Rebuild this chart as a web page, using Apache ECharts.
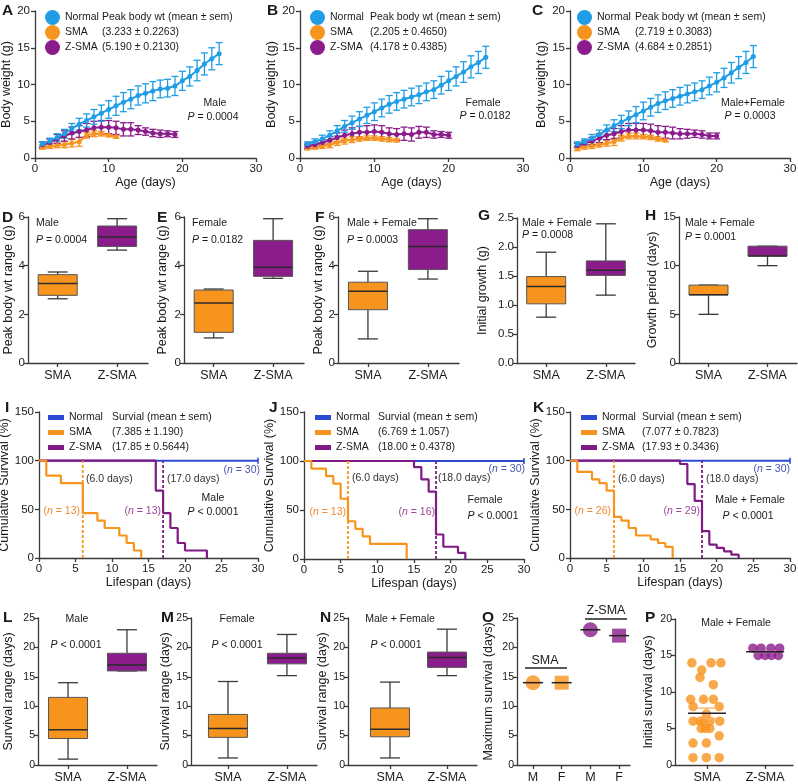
<!DOCTYPE html>
<html><head><meta charset="utf-8">
<script src="https://cdn.jsdelivr.net/npm/echarts@6/dist/echarts.min.js"></script>
<style>html,body{margin:0;padding:0;background:#fff}#c{width:798px;height:784px}</style>
</head><body><div id="c"></div><script>
// ================= DATA =================
const ageDays = [1,2,3,4,5,6,7,8,9,10,11,12,13,14,15,16,17,18,19,20,21,22,23,24,25];

// A - Male body weight (g)
const wtNormalMale = [1.9,2.3,2.8,3.3,4.0,4.6,5.1,5.6,6.1,6.6,7.1,7.6,8.0,8.5,8.8,9.1,9.4,9.5,9.8,10.5,11.1,11.9,12.8,13.5,14.2];
const semNormalMale = [0.3,0.4,0.5,0.6,0.7,0.8,0.9,1.0,1.1,1.2,1.3,1.3,1.3,1.3,1.3,1.3,1.2,1.2,1.3,1.3,1.3,1.4,1.5,1.5,1.5];
const wtSmaMale = [1.5,1.6,1.7,1.8,2.0,2.2,3.1,3.3,3.3,3.1,2.9];
const semSmaMale = [0.3,0.3,0.3,0.4,0.5,0.6,0.4,0.4,0.3,0.2,0.2];
const wtZsmaMale = [1.8,2.1,2.6,3.0,3.4,3.6,3.8,4.1,4.2,4.2,4.1,3.9,3.9,3.8,3.6,3.4,3.3,3.3,3.2];
const semZsmaMale = [0.4,0.5,0.6,0.7,0.8,0.8,0.9,0.9,0.9,0.9,0.9,0.9,0.9,0.6,0.5,0.5,0.5,0.4,0.4];
// B - Female
const wtNormalFemale = [1.9,2.2,2.6,3.1,3.7,4.3,4.8,5.3,5.8,6.3,6.8,7.3,7.7,8.0,8.3,8.6,9.0,9.3,9.9,10.5,11.1,11.7,12.4,13.0,13.7];
const semNormalFemale = [0.3,0.4,0.5,0.6,0.7,0.8,0.9,1.0,1.1,1.2,1.2,1.2,1.2,1.2,1.2,1.2,1.2,1.2,1.2,1.3,1.3,1.4,1.5,1.5,1.5];
const wtSmaFemale = [1.4,1.5,1.6,1.8,2.1,2.3,2.5,2.6,2.7,2.7,2.6,2.5,2.4];
const semSmaFemale = [0.3,0.3,0.3,0.4,0.4,0.4,0.4,0.3,0.3,0.3,0.3,0.3,0.2];
const wtZsmaFemale = [1.6,1.8,2.1,2.4,2.8,3.1,3.3,3.5,3.5,3.6,3.5,3.3,3.2,3.3,3.2,3.5,3.5,3.2,3.2,3.1];
const semZsmaFemale = [0.3,0.4,0.4,0.5,0.6,0.7,0.8,0.8,0.9,0.9,0.9,0.8,0.8,0.9,0.9,0.8,0.7,0.5,0.4,0.4];
// C - Male+Female
const wtNormalAll = [1.9,2.2,2.7,3.2,3.8,4.4,4.9,5.4,5.9,6.4,6.9,7.4,7.8,8.1,8.4,8.7,9.0,9.3,9.8,10.3,10.9,11.6,12.3,13.0,13.8];
const semNormalAll = [0.3,0.4,0.5,0.6,0.7,0.8,0.9,1.0,1.1,1.2,1.2,1.2,1.2,1.2,1.2,1.2,1.2,1.2,1.2,1.3,1.3,1.4,1.5,1.5,1.5];
const wtSmaAll = [1.3,1.5,1.6,1.8,2.0,2.2,2.7,3.0,3.0,2.9,2.8,2.6,2.4];
const semSmaAll = [0.3,0.3,0.3,0.3,0.4,0.5,0.4,0.4,0.4,0.3,0.3,0.3,0.2];
const wtZsmaAll = [1.7,2.0,2.3,2.7,3.1,3.3,3.6,3.8,3.8,3.8,3.7,3.5,3.5,3.4,3.3,3.3,3.3,3.2,3.0,3.0];
const semZsmaAll = [0.3,0.4,0.5,0.6,0.6,0.7,0.8,0.9,0.9,0.9,0.9,0.9,0.8,0.8,0.7,0.6,0.5,0.5,0.4,0.4];

const statsMale = ['Peak body wt (mean ± sem)', '(3.233 ± 0.2263)', '(5.190 ± 0.2130)'];
const statsFemale = ['Peak body wt (mean ± sem)', '(2.205 ± 0.4650)', '(4.178 ± 0.4385)'];
const statsAll = ['Peak body wt (mean ± sem)', '(2.719 ± 0.3083)', '(4.684 ± 0.2851)'];

// Box plots [min, q1, median, q3, max] for SMA, Z-SMA
const boxCats = ['SMA', 'Z-SMA'];
const peakWtMale = [[2.64,2.78,3.27,3.63,3.74],[4.64,4.79,5.18,5.63,5.93]];
const peakWtFemale = [[1.03,1.26,2.47,3.0,3.04],[3.48,3.56,3.93,5.04,5.93]];
const peakWtAll = [[0.99,2.19,2.95,3.32,3.77],[3.45,3.84,4.79,5.48,5.93]];
const initialGrowth = [[0.79,1.02,1.32,1.49,1.91],[1.17,1.51,1.60,1.76,2.40]];
const growthPeriod = [[5,7,7,8,8],[10,11,11,12,12]];
const survRangeMale = [[1,4.5,6,11.5,14],[16,16,17,19,23]];
const survRangeFemale = [[1.2,4.7,6.2,8.6,14.2],[15.2,17.2,18.2,19.0,22.2]];
const survRangeAll = [[1.2,4.8,6.1,9.7,14.1],[15.2,16.6,18.3,19.2,23.1]];

// Kaplan-Meier steps [day, survival %]
const kmNormal = [[0,100],[30,100]];
const kmSmaMale = [[0,100],[1,84.6],[3,76.9],[6,46.2],[8,38.5],[9,30.8],[11,23.1],[12,15.4],[13,7.7],[14,0]];
const kmZsmaMale = [[0,100],[16,69.2],[17,46.2],[18,30.8],[19,15.4],[20,7.7],[23,0]];
const kmSmaFemale = [[0,100],[1,92.3],[3,84.6],[4,76.9],[5,61.5],[6,38.5],[7,30.8],[8,23.1],[9,15.4],[14,0]];
const kmZsmaFemale = [[0,100],[15,93.75],[16,81.25],[17,68.75],[18,25],[19,12.5],[21,6.25],[22,0]];
const kmSmaAll = [[0,100],[1,88.5],[3,80.8],[4,76.9],[5,69.2],[6,42.3],[7,38.5],[8,30.8],[9,23.1],[11,19.2],[12,15.4],[13,11.5],[14,0]];
const kmZsmaAll = [[0,100],[15,96.6],[16,75.9],[17,58.6],[18,27.6],[19,13.8],[20,10.3],[21,6.9],[22,3.4],[23,0]];
const medianMale = [6, 17], medianFemale = [6, 18], medianAll = [6, 18];
const survStatsMale = ['Survial (mean ± sem)', '(7.385 ± 1.190)', '(17.85 ± 0.5644)'];
const survStatsFemale = ['Survial (mean ± sem)', '(6.769 ± 1.057)', '(18.00 ± 0.4378)'];
const survStatsAll = ['Survial (mean ± sem)', '(7.077 ± 0.7823)', '(17.93 ± 0.3436)'];

// O - maximum survival (M, F for SMA and Z-SMA)
const maxSurvCats = ['M', 'F', 'M', 'F'];
const maxSurvival = [14, 14, 23, 22];

// P - initial survival points [x position, days]
const initSurvSMA = [[0.74,14],[1.07,14],[1.24,14],[0.91,13],[0.88,12],[1.11,11],[0.72,9],[0.94,9],[1.11,9],[0.76,8],[1.21,8],[0.99,7],[0.76,6],[0.88,6],[1.05,6],[1.22,6],[0.93,6],[0.97,5],[1.05,5],[0.90,5],[1.21,4],[0.76,3],[0.99,3],[0.76,1],[0.99,1],[1.21,1]];
const initSurvZSMA = [[1.79,16],[1.93,16],[2.10,16],[2.25,16],[1.88,15],[2.00,15],[2.11,15],[2.23,15]];
const initSurvMean = [[1, 7.08, 0.72], [2, 15.5, 0.1]];

// ================= STYLE / BUILD =================
const FONT = '"Liberation Sans", Arial, Helvetica, sans-serif';
const C_NORM = '#1f9ee6', C_SMA = '#f7941d', C_ZSMA = '#8b1c8b';
const C_KMN = '#2d4bd1', C_KMZ = '#801a84';
const AX = '#3a3a3a', TXT = '#1a1a1a';
const boxColors = [C_SMA, C_ZSMA];

const grids = [], xAxes = [], yAxes = [], series = [], legends = [], graphics = [];

function addGrid(g) { grids.push(Object.assign({ containLabel: false, outerBoundsMode: 'none' }, g)); return grids.length - 1; }
function axis(o) {
  const base = {
    type: 'value', nameLocation: 'middle',
    nameTextStyle: { color: TXT, fontSize: 12.5, fontFamily: FONT },
    axisLine: { show: true, onZero: false, lineStyle: { color: AX, width: 1.3 } },
    axisTick: { show: true, inside: false, length: 4, lineStyle: { color: AX, width: 1.3 } },
    axisLabel: { show: true, color: TXT, fontSize: 11.5, fontFamily: FONT, margin: 5 },
    splitLine: { show: false }
  };
  for (const k in o) {
    if (base[k] && typeof base[k] === 'object' && !Array.isArray(base[k]) && o[k] && typeof o[k] === 'object' && !Array.isArray(o[k])) base[k] = Object.assign({}, base[k], o[k]);
    else base[k] = o[k];
  }
  return base;
}
function errRender(color, hw, lw) {
  return function (params, api) {
    const x = api.value(0), m = api.value(1), s = api.value(2);
    const a = api.coord([x, m + s]), b = api.coord([x, m - s]);
    const st = { stroke: color, lineWidth: lw };
    return { type: 'group', children: [
      { type: 'line', shape: { x1: a[0], y1: a[1], x2: b[0], y2: b[1] }, style: st },
      { type: 'line', shape: { x1: a[0] - hw, y1: a[1], x2: a[0] + hw, y2: a[1] }, style: st },
      { type: 'line', shape: { x1: b[0] - hw, y1: b[1], x2: b[0] + hw, y2: b[1] }, style: st }
    ]};
  };
}
function boxRender(params, api) {
  const x = api.value(0);
  const c = [1, 2, 3, 4, 5].map(k => api.coord([x, api.value(k)]));
  const cx = c[0][0], bw = 39, cw = 20;
  const wl = { stroke: '#3a3a3a', lineWidth: 1.3 };
  return { type: 'group', children: [
    { type: 'line', shape: { x1: cx, y1: c[4][1], x2: cx, y2: c[3][1] }, style: wl },
    { type: 'line', shape: { x1: cx, y1: c[1][1], x2: cx, y2: c[0][1] }, style: wl },
    { type: 'line', shape: { x1: cx - cw / 2, y1: c[4][1], x2: cx + cw / 2, y2: c[4][1] }, style: wl },
    { type: 'line', shape: { x1: cx - cw / 2, y1: c[0][1], x2: cx + cw / 2, y2: c[0][1] }, style: wl },
    { type: 'rect', shape: { x: cx - bw / 2, y: c[3][1], width: bw, height: c[1][1] - c[3][1] }, style: { fill: boxColors[params.dataIndex], stroke: '#555', lineWidth: 1 } },
    { type: 'line', shape: { x1: cx - bw / 2, y1: c[2][1], x2: cx + bw / 2, y2: c[2][1] }, style: { stroke: '#2a2a2a', lineWidth: 1.5 } }
  ]};
}
function meanRender(hw, semHw, semColors) {
  return function (params, api) {
    const x = api.value(0), m = api.value(1), s = api.value(2) || 0;
    const p = api.coord([x, m]);
    const ch = [];
    if (s > 0) {
      const a = api.coord([x, m + s]), b = api.coord([x, m - s]);
      const st = { stroke: semColors[params.dataIndex], lineWidth: 1.4 };
      ch.push({ type: 'line', shape: { x1: a[0], y1: a[1], x2: b[0], y2: b[1] }, style: st });
      ch.push({ type: 'line', shape: { x1: a[0] - semHw, y1: a[1], x2: a[0] + semHw, y2: a[1] }, style: st });
      ch.push({ type: 'line', shape: { x1: b[0] - semHw, y1: b[1], x2: b[0] + semHw, y2: b[1] }, style: st });
    }
    ch.push({ type: 'line', shape: { x1: p[0] - hw, y1: p[1], x2: p[0] + hw, y2: p[1] }, style: { stroke: '#222', lineWidth: 1.5 } });
    return { type: 'group', children: ch };
  };
}
function addLegend(left, top, icon, iw, ih, gap, colors, texts, nameW) {
  const names = ['Normal', 'SMA', 'Z-SMA'];
  legends.push({
    orient: 'vertical', left, top, padding: 0, itemGap: gap, itemWidth: iw, itemHeight: ih, icon, selectedMode: false,
    itemStyle: { borderWidth: 0 },
    data: names.map((n, i) => ({ name: n, itemStyle: { color: colors[i], borderWidth: 0 } })),
    textStyle: { fontSize: 10.5, lineHeight: 13, fontFamily: FONT, color: TXT,
      rich: { n: { width: nameW, fontSize: 10.5, fontFamily: FONT, color: TXT }, s: { fontSize: 10.5, fontFamily: FONT, color: TXT } } },
    formatter: name => '{n|' + name + '}{s|' + texts[names.indexOf(name)] + '}'
  });
}
function txt(x, y, text, align, opts) {
  opts = opts || {};
  const fs = opts.fs || 10.5, col = opts.color || TXT, fw = opts.bold ? 'bold' : 'normal';
  graphics.push({ type: 'text', x, y, silent: true, z: 100, style: {
    text, fill: col, fontSize: fs, fontFamily: FONT, fontWeight: fw, align: align || 'left', verticalAlign: opts.va || 'middle',
    rich: { i: { fontStyle: 'italic', fontSize: fs, fontFamily: FONT, fill: col } } } });
}
function hline(x1, x2, y) {
  graphics.push({ type: 'line', silent: true, shape: { x1, y1: y, x2, y2: y }, style: { stroke: '#222', lineWidth: 1.3 } });
}

function growthPanel(g, nameGap, groups) {
  const gi = addGrid(g);
  xAxes.push(axis({ gridIndex: gi, min: 0, max: 30, interval: 10, name: 'Age (days)', nameGap: 18 }));
  yAxes.push(axis({ gridIndex: gi, min: 0, max: 20, interval: 5, name: 'Body weight (g)', nameGap }));
  groups.forEach(gr => {
    series.push({ type: 'custom', name: gr.name + ' sem', xAxisIndex: gi, yAxisIndex: gi, clip: false,
      data: gr.mean.map((v, i) => [ageDays[i], v, gr.sem[i]]), encode: { x: 0, y: 1 },
      renderItem: errRender(gr.color, 3.5, 1.3) });
    series.push({ type: 'line', name: gr.name, xAxisIndex: gi, yAxisIndex: gi,
      data: gr.mean.map((v, i) => [ageDays[i], v]), symbol: 'circle', symbolSize: 5, showSymbol: true,
      itemStyle: { color: gr.color, borderWidth: 0 }, lineStyle: { color: gr.color, width: 2 } });
  });
}
function boxPanel(g, xr, ymax, yint, yname, nameGap, boxes, yfmt, yfs) {
  const gi = addGrid(g);
  const ticks = [1, 2];
  xAxes.push(axis({ gridIndex: gi, min: xr[0], max: xr[1],
    axisTick: { customValues: ticks }, axisLabel: { customValues: ticks, fontSize: 12.5, margin: 6, formatter: v => boxCats[Math.round(v) - 1] || '' } }));
  const ya = { gridIndex: gi, min: 0, max: ymax, interval: yint, name: yname, nameGap, axisLabel: { margin: 3, fontSize: yfs || 11.5 } };
  if (yfmt) ya.axisLabel.formatter = yfmt;
  yAxes.push(axis(ya));
  series.push({ type: 'custom', xAxisIndex: gi, yAxisIndex: gi, clip: false,
    data: boxes.map((b, i) => [i + 1].concat(b)), encode: { x: 0, y: [1, 2, 3, 4, 5] }, renderItem: boxRender });
}
function kmPanel(g, nameGap, sma, zsma, med) {
  const gi = addGrid(g);
  xAxes.push(axis({ gridIndex: gi, min: 0, max: 30, interval: 5, name: 'Lifespan (days)', nameGap: 16 }));
  yAxes.push(axis({ gridIndex: gi, min: 0, max: 150, interval: 50, name: 'Cumulative Survival (%)', nameGap }));
  series.push({ type: 'line', name: 'Normal', xAxisIndex: gi, yAxisIndex: gi, symbol: 'none',
    data: [kmNormal[0], { value: kmNormal[1], symbol: 'rect', symbolSize: [1.6, 6] }],
    itemStyle: { color: C_KMN }, lineStyle: { color: C_KMN, width: 2 } });
  series.push({ type: 'line', name: 'Z-SMA', xAxisIndex: gi, yAxisIndex: gi, symbol: 'none', step: 'end',
    data: zsma, itemStyle: { color: C_KMZ }, lineStyle: { color: C_KMZ, width: 2.2 } });
  series.push({ type: 'line', name: 'SMA', xAxisIndex: gi, yAxisIndex: gi, symbol: 'none', step: 'end',
    data: sma, itemStyle: { color: C_SMA }, lineStyle: { color: C_SMA, width: 2.2 } });
  [[med[0], C_SMA], [med[1], C_KMZ]].forEach(([m, col]) => {
    series.push({ type: 'line', name: 'median', xAxisIndex: gi, yAxisIndex: gi, symbol: 'none',
      data: [[m, 0], [m, 100]], lineStyle: { color: col, width: 1.8, type: [3, 2] } });
  });
}

// ---- Row 1 ----
growthPanel({ left: 35, top: 11, width: 221, height: 147 }, 21, [
  { name: 'SMA', mean: wtSmaMale, sem: semSmaMale, color: C_SMA },
  { name: 'Z-SMA', mean: wtZsmaMale, sem: semZsmaMale, color: C_ZSMA },
  { name: 'Normal', mean: wtNormalMale, sem: semNormalMale, color: C_NORM }]);
growthPanel({ left: 300, top: 11, width: 223, height: 147 }, 18, [
  { name: 'SMA', mean: wtSmaFemale, sem: semSmaFemale, color: C_SMA },
  { name: 'Z-SMA', mean: wtZsmaFemale, sem: semZsmaFemale, color: C_ZSMA },
  { name: 'Normal', mean: wtNormalFemale, sem: semNormalFemale, color: C_NORM }]);
growthPanel({ left: 570, top: 11, width: 220, height: 147 }, 21, [
  { name: 'SMA', mean: wtSmaAll, sem: semSmaAll, color: C_SMA },
  { name: 'Z-SMA', mean: wtZsmaAll, sem: semZsmaAll, color: C_ZSMA },
  { name: 'Normal', mean: wtNormalAll, sem: semNormalAll, color: C_NORM }]);
addLegend(45, 10, 'circle', 15, 15, 0, [C_NORM, C_SMA, C_ZSMA], statsMale, 37);
addLegend(310, 10, 'circle', 15, 15, 0, [C_NORM, C_SMA, C_ZSMA], statsFemale, 40);
addLegend(577, 10, 'circle', 15, 15, 0, [C_NORM, C_SMA, C_ZSMA], statsAll, 38);

// ---- Row 2 ----
const ylabPeak = 'Peak body wt range (g)';
boxPanel({ left: 28, top: 217, width: 120, height: 146 }, [0.5, 2.52], 6, 2, ylabPeak, 13, peakWtMale);
boxPanel({ left: 184, top: 217, width: 120, height: 146 }, [0.5, 2.52], 6, 2, ylabPeak, 15, peakWtFemale);
boxPanel({ left: 338, top: 217, width: 121, height: 146 }, [0.5, 2.52], 6, 2, ylabPeak, 13, peakWtAll);
boxPanel({ left: 517, top: 218, width: 118, height: 145 }, [0.51, 2.49], 2.5, 0.5, 'Initial growth (g)', 28, initialGrowth, v => v.toFixed(1));
boxPanel({ left: 679, top: 217, width: 118, height: 146 }, [0.5, 2.5], 15, 5, 'Growth period (days)', 20, growthPeriod);

// ---- Row 3 ----
kmPanel({ left: 39, top: 412, width: 219, height: 146 }, 25, kmSmaMale, kmZsmaMale, medianMale);
kmPanel({ left: 304, top: 412, width: 220, height: 147 }, 25, kmSmaFemale, kmZsmaFemale, medianFemale);
kmPanel({ left: 570, top: 412, width: 220, height: 146 }, 28, kmSmaAll, kmZsmaAll, medianAll);
addLegend(48, 411, 'rect', 16, 5, 2, [C_KMN, C_SMA, C_KMZ], survStatsMale, 43);
addLegend(315, 411, 'rect', 16, 5, 2, [C_KMN, C_SMA, C_KMZ], survStatsFemale, 42);
addLegend(581, 411, 'rect', 16, 5, 2, [C_KMN, C_SMA, C_KMZ], survStatsAll, 40);

// ---- Row 4 ----
const ylabSurv = 'Survival range (days)';
boxPanel({ left: 38, top: 618, width: 119, height: 147 }, [0.49, 2.51], 25, 5, ylabSurv, 23, survRangeMale, null, 10.5);
boxPanel({ left: 191, top: 618, width: 126, height: 147 }, [0.373, 2.51], 25, 5, ylabSurv, 16, survRangeFemale, null, 10.5);
boxPanel({ left: 348, top: 618, width: 129, height: 147 }, [0.263, 2.526], 25, 5, ylabSurv, 12, survRangeAll, null, 10.5);

// O
(function () {
  const gi = addGrid({ left: 517, top: 618, width: 113, height: 147 });
  const ticks = [1, 2, 3, 4];
  xAxes.push(axis({ gridIndex: gi, min: 0.443, max: 4.38,
    axisTick: { customValues: ticks }, axisLabel: { customValues: ticks, fontSize: 12.5, margin: 6, formatter: v => maxSurvCats[Math.round(v) - 1] || '' } }));
  yAxes.push(axis({ gridIndex: gi, min: 0, max: 25, interval: 5, name: 'Maximum survival (days)', nameGap: 22, axisLabel: { margin: 3, fontSize: 10.5 } }));
  const oSymbols = ['circle', 'rect', 'circle', 'rect'];
  const oSizes = [15, 14, 15, 14];
  const oColors = [C_SMA, C_SMA, C_ZSMA, C_ZSMA];
  series.push({ type: 'scatter', xAxisIndex: gi, yAxisIndex: gi,
    data: maxSurvival.map((v, i) => ({ value: [i + 1, v], symbol: oSymbols[i], symbolSize: oSizes[i], itemStyle: { color: oColors[i] } })) });
  series.push({ type: 'custom', xAxisIndex: gi, yAxisIndex: gi, clip: false, z: 5,
    data: maxSurvival.map((v, i) => [i + 1, v, 0]), encode: { x: 0, y: 1 }, renderItem: meanRender(10, 0, []) });
})();

// P
(function () {
  const gi = addGrid({ left: 675, top: 619, width: 118, height: 146 });
  const ticks = [1, 2];
  xAxes.push(axis({ gridIndex: gi, min: 0.45, max: 2.48,
    axisTick: { customValues: ticks }, axisLabel: { customValues: ticks, fontSize: 12.5, margin: 6, formatter: v => boxCats[Math.round(v) - 1] || '' } }));
  yAxes.push(axis({ gridIndex: gi, min: 0, max: 20, interval: 5, name: 'Initial survival (days)', nameGap: 20, axisLabel: { margin: 3, fontSize: 10.5 } }));
  series.push({ type: 'scatter', xAxisIndex: gi, yAxisIndex: gi, data: initSurvSMA, symbol: 'circle', symbolSize: 9.5, itemStyle: { color: C_SMA } });
  series.push({ type: 'scatter', xAxisIndex: gi, yAxisIndex: gi, data: initSurvZSMA, symbol: 'circle', symbolSize: 9.5, itemStyle: { color: C_ZSMA } });
  series.push({ type: 'custom', xAxisIndex: gi, yAxisIndex: gi, clip: false, z: 5,
    data: initSurvMean, encode: { x: 0, y: 1 }, renderItem: meanRender(19, 10, ['#f6b26b', '#b060b0']) });
})();

// ---- Texts ----
const letters = [['A',2,3],['B',267,3],['C',532,3],['D',2,210],['E',157,210],['F',315,210],['G',478,208],['H',645,208],
  ['I',5,400],['J',269,400],['K',533,400],['L',3,610],['M',161,610],['N',320,610],['O',482,610],['P',645,610]];
letters.forEach(([t, x, y]) => txt(x, y, t, 'left', { fs: 15.5, bold: true, va: 'top' }));

txt(215, 103, 'Male', 'center'); txt(213, 117, '{i|P} = 0.0004', 'center');
txt(483, 103, 'Female', 'center'); txt(485, 116, '{i|P} = 0.0182', 'center');
txt(753, 103, 'Male+Female', 'center'); txt(750, 116, '{i|P} = 0.0003', 'center');

txt(36, 223, 'Male'); txt(36, 240, '{i|P} = 0.0004');
txt(192, 223, 'Female'); txt(192, 240, '{i|P} = 0.0182');
txt(347, 223, 'Male + Female'); txt(347, 240, '{i|P} = 0.0003');
txt(522, 223, 'Male + Female'); txt(522, 235, '{i|P} = 0.0008');
txt(685, 223, 'Male + Female'); txt(685, 237, '{i|P} = 0.0001');

const cO = '#f08a30', cP = '#9a449a', cB = '#4a55b5', cG = '#333';
txt(86, 479, '(6.0 days)', 'left', { color: cG }); txt(167, 479, '(17.0 days)', 'left', { color: cG });
txt(80, 511, '({i|n} = 13)', 'right', { color: cO }); txt(161, 511, '({i|n} = 13)', 'right', { color: cP });
txt(260, 470, '({i|n} = 30)', 'right', { color: cB });
txt(213, 498, 'Male', 'center'); txt(213, 512, '{i|P} < 0.0001', 'center');

txt(352, 478, '(6.0 days)', 'left', { color: cG }); txt(438, 478, '(18.0 days)', 'left', { color: cG });
txt(346, 512, '({i|n} = 13)', 'right', { color: cO }); txt(435, 512, '({i|n} = 16)', 'right', { color: cP });
txt(525, 469, '({i|n} = 30)', 'right', { color: cB });
txt(485, 500, 'Female', 'center'); txt(493, 516, '{i|P} < 0.0001', 'center');

txt(618, 479, '(6.0 days)', 'left', { color: cG }); txt(706, 479, '(18.0 days)', 'left', { color: cG });
txt(611, 511, '({i|n} = 26)', 'right', { color: cO }); txt(700, 511, '({i|n} = 29)', 'right', { color: cP });
txt(790, 469, '({i|n} = 30)', 'right', { color: cB });
txt(750, 500, 'Male + Female', 'center'); txt(748, 516, '{i|P} < 0.0001', 'center');

txt(77, 619, 'Male', 'center'); txt(76, 645, '{i|P} < 0.0001', 'center');
txt(237, 619, 'Female', 'center'); txt(237, 645, '{i|P} < 0.0001', 'center');
txt(400, 619, 'Male + Female', 'center'); txt(396, 645, '{i|P} < 0.0001', 'center');

txt(545, 661, 'SMA', 'center', { fs: 12.5 }); hline(525, 567, 668);
txt(606, 611, 'Z-SMA', 'center', { fs: 12.5 }); hline(585, 627, 619);
txt(736, 623, 'Male + Female', 'center');

const chart = echarts.init(document.getElementById('c'), null, { renderer: 'canvas' });
chart.setOption({
  animation: false, backgroundColor: '#fff', textStyle: { fontFamily: FONT },
  grid: grids, xAxis: xAxes, yAxis: yAxes, legend: legends, series, graphic: graphics
});
</script></body></html>
